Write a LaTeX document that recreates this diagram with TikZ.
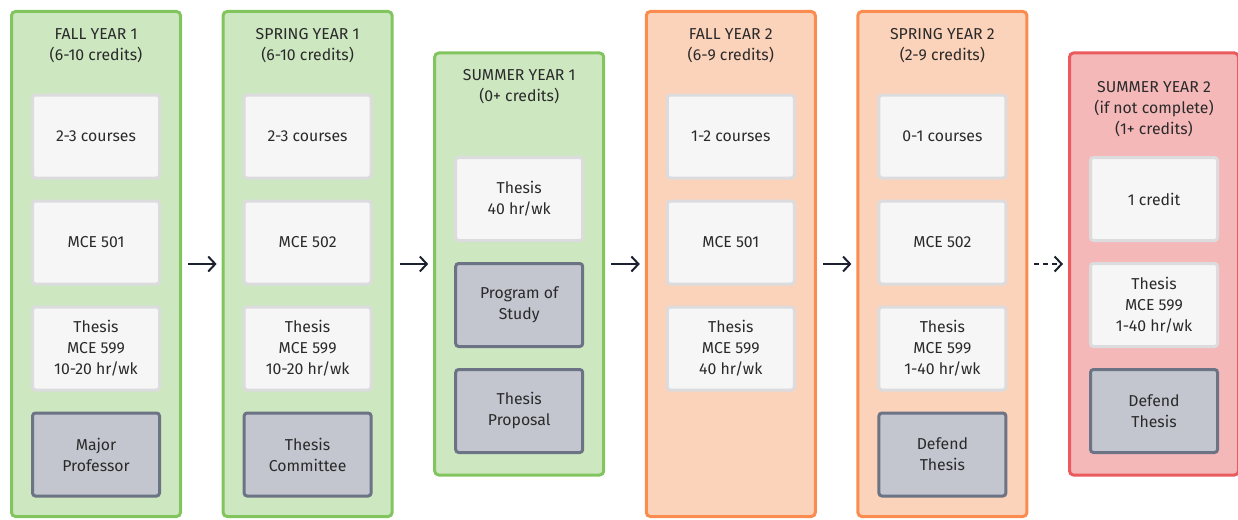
\documentclass[tikz,border=0pt]{standalone}
\usepackage{fontspec}
\setmainfont{Fira Sans}
\usetikzlibrary{positioning,arrows.meta}

\definecolor{greenfill}{HTML}{CDE7C1}
\definecolor{greenline}{HTML}{82C55E}
\definecolor{orangefill}{HTML}{FBD2BA}
\definecolor{orangeline}{HTML}{FA8C50}
\definecolor{redfill}{HTML}{F5B8B9}
\definecolor{redline}{HTML}{EB5A5C}
\definecolor{boxfill}{HTML}{F6F6F6}
\definecolor{boxline}{HTML}{DCDCDF}
\definecolor{taskfill}{HTML}{C3C6CF}
\definecolor{taskline}{HTML}{6B7385}
\definecolor{inktext}{HTML}{2A2A2A}
\definecolor{inkarrow}{HTML}{1C2130}

\begin{document}
\begin{tikzpicture}[x=1pt,y=1pt,node distance=106 and 211.6,on grid,
    font=\fontsize{15.8}{21}\selectfont, text=inktext,
    >={Straight Barb[length=7pt,width=15pt]},
    term/.style={rectangle,rounded corners=4pt,line width=3pt,minimum width=169},
    tallterm/.style={term,minimum height=505},
    shortterm/.style={term,minimum height=422},
    title/.style={align=center,inner sep=0pt,anchor=north},
    course/.style={draw=boxline,fill=boxfill,rectangle,rounded corners=3pt,line width=3pt,
        minimum width=127,minimum height=83,align=center},
    task/.style={course,draw=taskline,fill=taskfill},
    step arrow/.style={->,draw=inkarrow,line width=2pt,shorten <=6pt,shorten >=5pt}]

    \useasboundingbox (0,-519) rectangle (1238,0);

    % semester columns
    \node[tallterm,draw=greenline,fill=greenfill] (c1) at (96,-264) {};
    \node[tallterm,draw=greenline,fill=greenfill,right=of c1] (c2) {};
    \node[shortterm,draw=greenline,fill=greenfill,right=of c2] (c3) {};
    \node[tallterm,draw=orangeline,fill=orangefill,right=of c3] (c4) {};
    \node[tallterm,draw=orangeline,fill=orangefill,right=of c4] (c5) {};
    \node[shortterm,draw=redline,fill=redfill,right=of c5] (c6) {};

    % titles
    \node[title] (t1) at ([yshift=-18]c1.north) {FALL YEAR 1\\(6-10 credits)};
    \node[title] (t2) at ([yshift=-18]c2.north) {SPRING YEAR 1\\(6-10 credits)};
    \node[title] (t3) at ([yshift=-18]c3.north) {SUMMER YEAR 1\\(0+ credits)};
    \node[title] (t4) at ([yshift=-18]c4.north) {FALL YEAR 2\\(6-9 credits)};
    \node[title] (t5) at ([yshift=-18]c5.north) {SPRING YEAR 2\\(2-9 credits)};
    \node[title] (t6) at ([yshift=-29.5]c6.north) {SUMMER YEAR 2\\(if not complete)\\(1+ credits)};

    % fall year 1
    \node[course] (c1a) at ([yshift=-126.5]c1.north) {2-3 courses};
    \node[course,below=of c1a] (c1b) {MCE 501};
    \node[course,below=of c1b] (c1c) {Thesis\\MCE 599\\10-20 hr/wk};
    \node[task,below=of c1c] (c1d) {Major\\Professor};

    % spring year 1
    \node[course] (c2a) at ([yshift=-126.5]c2.north) {2-3 courses};
    \node[course,below=of c2a] (c2b) {MCE 502};
    \node[course,below=of c2b] (c2c) {Thesis\\MCE 599\\10-20 hr/wk};
    \node[task,below=of c2c] (c2d) {Thesis\\Committee};

    % summer year 1
    \node[course] (c3a) at ([yshift=-147.5]c3.north) {Thesis\\40 hr/wk};
    \node[task,below=of c3a] (c3b) {Program of\\Study};
    \node[task,below=of c3b] (c3c) {Thesis\\Proposal};

    % fall year 2
    \node[course] (c4a) at ([yshift=-126.5]c4.north) {1-2 courses};
    \node[course,below=of c4a] (c4b) {MCE 501};
    \node[course,below=of c4b] (c4c) {Thesis\\MCE 599\\40 hr/wk};

    % spring year 2
    \node[course] (c5a) at ([yshift=-126.5]c5.north) {0-1 courses};
    \node[course,below=of c5a] (c5b) {MCE 502};
    \node[course,below=of c5b] (c5c) {Thesis\\MCE 599\\1-40 hr/wk};
    \node[task,below=of c5c] (c5d) {Defend\\Thesis};

    % summer year 2
    \node[course] (c6a) at ([yshift=-147.5]c6.north) {1 credit};
    \node[course,below=of c6a] (c6b) {Thesis\\MCE 599\\1-40 hr/wk};
    \node[task,below=of c6b] (c6c) {Defend\\Thesis};

    \draw[step arrow] (c1) -- (c2);
    \draw[step arrow] (c2) -- (c3);
    \draw[step arrow] (c3) -- (c4);
    \draw[step arrow] (c4) -- (c5);
    \draw[step arrow,dash pattern=on 5pt off 4pt] (c5) -- (c6);

\end{tikzpicture}
\end{document}
